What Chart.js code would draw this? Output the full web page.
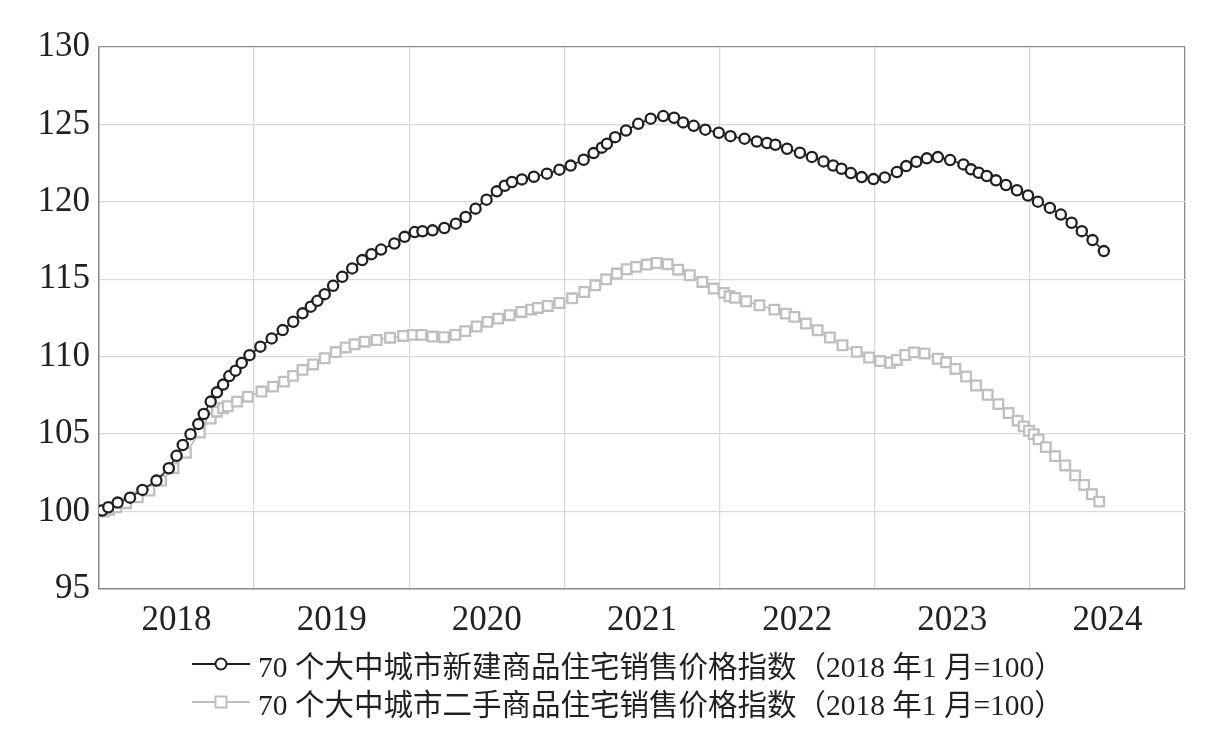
<!DOCTYPE html>
<html>
<head>
<meta charset="utf-8">
<script src="https://cdn.jsdelivr.net/npm/chart.js@4/dist/chart.umd.min.js"></script>
<style>
  html, body { margin: 0; padding: 0; background: #ffffff; }
  #boite { width: 1229px; height: 742px; position: relative; }
  #legende { position: absolute; left: 192px; top: 645px; font-family: 'Liberation Serif', 'Noto Sans CJK SC', serif; font-size: 29.5px; color: #231f20; }
  .ligneLegende { height: 38px; display: flex; align-items: center; white-space: nowrap; }
  .ligneLegende canvas { margin-right: 8px; }
</style>
</head>
<body>
<div id="boite"><canvas id="graphique"></canvas><div id="legende"></div></div>
<script>
// Libelles des annees (axe x)
const annees = ['2018', '2019', '2020', '2021', '2022', '2023', '2024'];

// Noms des series
const nomNeuf = '70 个大中城市新建商品住宅销售价格指数（2018 年1 月=100）';
const nomOccasion = '70 个大中城市二手商品住宅销售价格指数（2018 年1 月=100）';

// Serie 1 : logements neufs (position en annee decimale, indice)
const neufX = [2018.02, 2018.06, 2018.12, 2018.2, 2018.28, 2018.37, 2018.45, 2018.5, 2018.54, 2018.59,
  2018.64, 2018.675, 2018.72, 2018.76, 2018.8, 2018.84, 2018.88, 2018.92, 2018.97, 2019.04,
  2019.113, 2019.184, 2019.252, 2019.312, 2019.365, 2019.408, 2019.455, 2019.509, 2019.568, 2019.632,
  2019.697, 2019.756, 2019.818, 2019.904, 2019.97, 2020.035, 2020.085, 2020.15, 2020.226, 2020.3,
  2020.363, 2020.427, 2020.498, 2020.564, 2020.615, 2020.662, 2020.726, 2020.803, 2020.887, 2020.968,
  2021.04, 2021.124, 2021.188, 2021.241, 2021.274, 2021.327, 2021.397, 2021.476, 2021.556, 2021.637,
  2021.707, 2021.765, 2021.833, 2021.908, 2021.995, 2022.07, 2022.161, 2022.24, 2022.306, 2022.36,
  2022.435, 2022.518, 2022.595, 2022.67, 2022.732, 2022.786, 2022.846, 2022.916, 2022.992, 2023.065,
  2023.143, 2023.203, 2023.268, 2023.336, 2023.407, 2023.486, 2023.572, 2023.621, 2023.67, 2023.722,
  2023.782, 2023.846, 2023.917, 2023.988, 2024.052, 2024.129, 2024.2, 2024.269, 2024.335, 2024.404,
  2024.477];
const neufY = [100.07, 100.28, 100.58, 100.9, 101.4, 102.0, 102.8, 103.6, 104.3, 105.0,
  105.65, 106.3, 107.1, 107.7, 108.2, 108.75, 109.1, 109.6, 110.1, 110.65,
  111.18, 111.72, 112.26, 112.8, 113.23, 113.61, 114.04, 114.58, 115.16, 115.7,
  116.24, 116.62, 116.92, 117.31, 117.74, 118.05, 118.1, 118.16, 118.31, 118.59,
  119.02, 119.56, 120.14, 120.68, 121.04, 121.28, 121.45, 121.62, 121.82, 122.08,
  122.34, 122.72, 123.15, 123.5, 123.75, 124.18, 124.61, 125.04, 125.37, 125.54,
  125.43, 125.13, 124.91, 124.66, 124.46, 124.24, 124.08, 123.9, 123.8, 123.69,
  123.43, 123.17, 122.9, 122.61, 122.35, 122.14, 121.86, 121.6, 121.47, 121.58,
  121.93, 122.31, 122.59, 122.81, 122.89, 122.7, 122.42, 122.1, 121.88, 121.67,
  121.39, 121.09, 120.75, 120.41, 120.01, 119.61, 119.18, 118.65, 118.11, 117.53,
  116.82];

// Serie 2 : logements d'occasion
const occasionX = [2018.03, 2018.065, 2018.11, 2018.175, 2018.25, 2018.325, 2018.4, 2018.48, 2018.56, 2018.65,
  2018.72, 2018.76, 2018.8, 2018.83, 2018.89, 2018.96, 2019.047, 2019.122, 2019.193, 2019.251,
  2019.312, 2019.38, 2019.455, 2019.526, 2019.59, 2019.647, 2019.712, 2019.79, 2019.876, 2019.96,
  2020.024, 2020.078, 2020.149, 2020.224, 2020.297, 2020.361, 2020.434, 2020.504, 2020.573, 2020.647,
  2020.722, 2020.786, 2020.829, 2020.893, 2020.968, 2021.05, 2021.128, 2021.199, 2021.269, 2021.338,
  2021.402, 2021.462, 2021.53, 2021.594, 2021.665, 2021.733, 2021.808, 2021.889, 2021.962, 2022.028,
  2022.064, 2022.1, 2022.171, 2022.257, 2022.353, 2022.428, 2022.482, 2022.557, 2022.632, 2022.711,
  2022.792, 2022.884, 2022.964, 2023.035, 2023.1, 2023.143, 2023.197, 2023.253, 2023.321, 2023.407,
  2023.46, 2023.52, 2023.589, 2023.653, 2023.728, 2023.797, 2023.863, 2023.921, 2023.96, 2023.995,
  2024.025, 2024.056, 2024.103, 2024.163, 2024.228, 2024.292, 2024.35, 2024.4, 2024.447];
const occasionY = [100.0, 100.12, 100.28, 100.54, 100.92, 101.35, 102.0, 102.8, 103.8, 105.1,
  106.0, 106.45, 106.67, 106.8, 107.1, 107.42, 107.75, 108.07, 108.39, 108.76,
  109.15, 109.5, 109.9, 110.3, 110.6, 110.8, 110.97, 111.08, 111.23, 111.34,
  111.41, 111.41, 111.3, 111.26, 111.41, 111.65, 111.95, 112.25, 112.46, 112.68,
  112.89, 113.04, 113.15, 113.28, 113.47, 113.77, 114.18, 114.61, 115.0, 115.37,
  115.65, 115.8, 115.95, 116.05, 115.97, 115.62, 115.26, 114.83, 114.4, 114.12,
  113.9, 113.8, 113.58, 113.32, 113.04, 112.78, 112.57, 112.14, 111.71, 111.24,
  110.74, 110.31, 109.95, 109.72, 109.61, 109.79, 110.11, 110.28, 110.21, 109.87,
  109.64, 109.21, 108.72, 108.14, 107.54, 106.94, 106.36, 105.87, 105.5, 105.22,
  105.0, 104.66, 104.16, 103.58, 102.98, 102.34, 101.72, 101.12, 100.64];

const noir = '#231f20';
const gris = '#bfbfbf';
const grille = '#d9d9d9';
const cadre = '#8c8c8c';
const policeChiffres = "'Liberation Serif', 'Times New Roman', serif";

function enPoints(xs, ys) {
  return xs.map((x, i) => ({ x: x, y: ys[i] }));
}

// Petites images pour la legende : trait + marqueur
function iconeLegende(couleur, forme) {
  let c = document.createElement('canvas');
  c.width = 58;
  c.height = 16;
  let g = c.getContext('2d');
  g.strokeStyle = couleur;
  g.lineWidth = 2;
  g.beginPath();
  g.moveTo(0, 8);
  g.lineTo(58, 8);
  g.stroke();
  g.fillStyle = '#ffffff';
  g.beginPath();
  if (forme === 'cercle') {
    g.arc(29, 8, 5.5, 0, Math.PI * 2);
  } else {
    g.rect(23.5, 2.5, 11, 11);
  }
  g.fill();
  g.stroke();
  return c;
}

let ctx = document.getElementById('graphique').getContext('2d');
let chart = new Chart(ctx, {
  type: 'line',
  data: {
    datasets: [{
      label: nomNeuf,
      data: enPoints(neufX, neufY),
      borderColor: noir,
      borderWidth: 1.6,
      pointStyle: 'circle',
      pointRadius: 5.1,
      pointBorderWidth: 2.3,
      pointBackgroundColor: '#ffffff',
      pointBorderColor: noir,
      tension: 0
    }, {
      label: nomOccasion,
      data: enPoints(occasionX, occasionY),
      borderColor: gris,
      borderWidth: 1.6,
      pointStyle: 'rect',
      pointRadius: 6.8,
      pointBorderWidth: 2.3,
      pointBackgroundColor: '#ffffff',
      pointBorderColor: gris,
      tension: 0
    }]
  },
  options: {
    responsive: true,
    maintainAspectRatio: false,
    animation: false,
    layout: { padding: { top: 47, right: 44, left: 0, bottom: 103 } },
    scales: {
      x: {
        type: 'linear',
        min: 2018,
        max: 2025,
        afterBuildTicks: (axe) => {
          let t = [];
          for (let v = 2018; v <= 2025; v += 0.5) t.push({ value: v });
          axe.ticks = t;
        },
        afterFit: (axe) => { axe.height = 50; },
        grid: {
          drawTicks: false,
          color: (c) => {
            if (c.tick.value % 1 !== 0) return 'rgba(0,0,0,0)';
            return c.tick.value === 2025 ? cadre : grille;
          },
          lineWidth: 1.3
        },
        border: { display: true, color: cadre, width: 1.5 },
        ticks: {
          autoSkip: false,
          maxRotation: 0,
          padding: 11,
          color: noir,
          font: { family: policeChiffres, size: 35 },
          callback: (v) => (v % 1 === 0.5 ? annees[Math.floor(v - 2018)] : '')
        }
      },
      y: {
        min: 95,
        max: 130,
        afterFit: (axe) => { axe.width = 99; },
        grid: {
          drawTicks: false,
          color: (c) => (c.tick.value === 130 ? cadre : grille),
          lineWidth: 1.3
        },
        border: { display: true, color: cadre, width: 1.5 },
        ticks: {
          stepSize: 5,
          padding: 9,
          color: noir,
          font: { family: policeChiffres, size: 35 }
        }
      }
    },
    plugins: {
      tooltip: { enabled: false },
      legend: { display: false }
    }
  }
});

// Legende en HTML sous le graphique
let legende = document.getElementById('legende');
const formes = ['cercle', 'carre'];
chart.data.datasets.forEach((ds, i) => {
  let ligne = document.createElement('div');
  ligne.className = 'ligneLegende';
  ligne.appendChild(iconeLegende(ds.borderColor, formes[i]));
  let texte = document.createElement('span');
  texte.textContent = ds.label;
  ligne.appendChild(texte);
  legende.appendChild(ligne);
});
</script>
</body>
</html>
